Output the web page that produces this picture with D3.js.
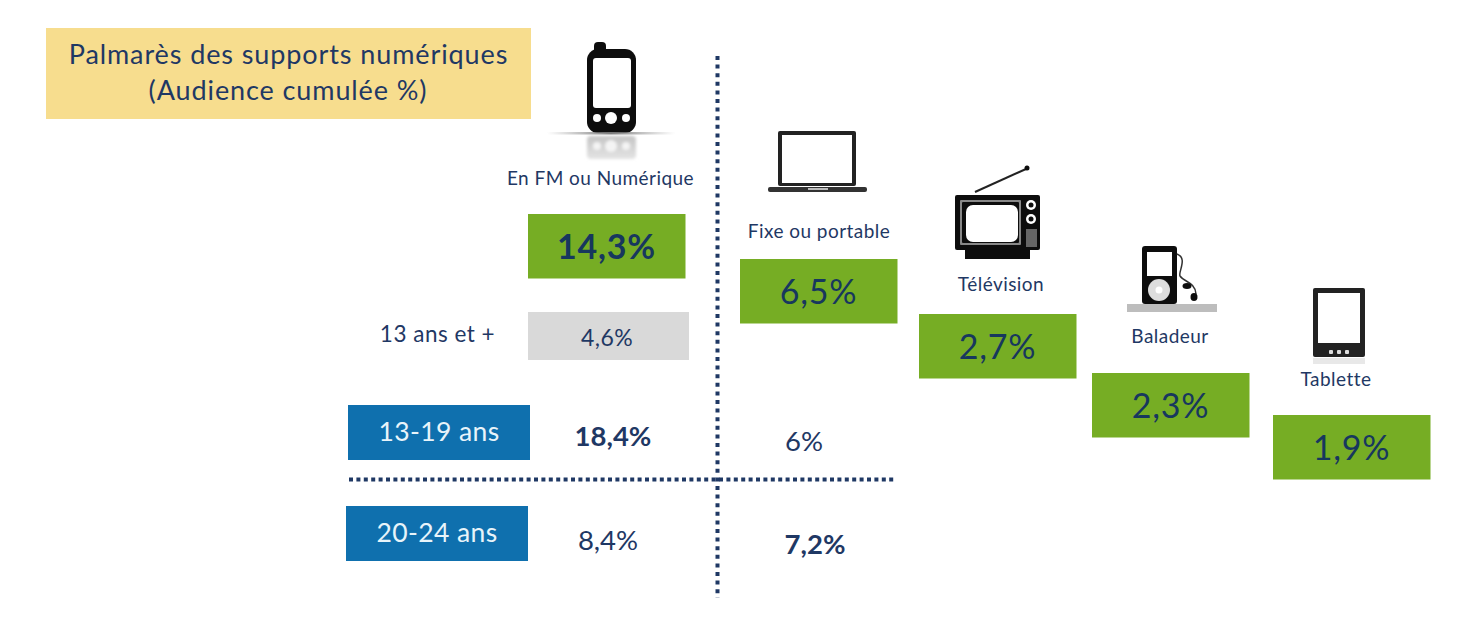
<!DOCTYPE html>
<html>
<head>
<meta charset="utf-8">
<script src="https://cdn.jsdelivr.net/npm/d3@7"></script>
<style>
  html, body { margin: 0; padding: 0; background: #fff; }
  text { font-family: Lato, "Open Sans", sans-serif; }
</style>
</head>
<body>
<svg id="chart" width="1460" height="619"></svg>
<script>
// palmares des supports numeriques
var supports = ["En FM ou Numérique", "Fixe ou portable", "Télévision", "Baladeur", "Tablette"];
var audience = ["14,3%", "6,5%", "2,7%", "2,3%", "1,9%"];
var ageGroups = ["13-19 ans", "20-24 ans"];
var ageFm = ["18,4%", "8,4%"];
var agePc = ["6%", "7,2%"];
var ageBold = [["18,4%"], ["7,2%"]];

var titleLines = ["Palmarès des supports numériques", "(Audience cumulée %)"];
var refLabel = "13 ans et +";
var refValue = "4,6%";

var navy = "#1f3864", green = "#76ad24", blue = "#0f70ae", black = "#111";

var cardX = d3.scaleOrdinal().domain(supports).range([528, 740, 919, 1092, 1273]);
var cardY = d3.scaleOrdinal().domain(supports).range([214, 259, 314, 373, 415]);
var labelY = d3.scaleOrdinal().domain(supports).range([185, 238, 291, 343, 386]);
var labelX = d3.scaleOrdinal().domain(supports).range([600.5, 819, 1001, 1170, 1336]);
var rowBox = d3.scaleOrdinal().domain(ageGroups).range([348, 346]);
var rowTop = d3.scaleOrdinal().domain(ageGroups).range([405, 506]);
var fmX = d3.scaleOrdinal().domain(ageGroups).range([613, 608]);
var pcX = d3.scaleOrdinal().domain(ageGroups).range([804, 815]);
var fmY = d3.scaleOrdinal().domain(ageGroups).range([446, 550]);
var pcY = d3.scaleOrdinal().domain(ageGroups).range([451, 554]);

var svg = d3.select("#chart");

// title box
svg.append("rect").attr("x", 46).attr("y", 28).attr("width", 485).attr("height", 91).attr("fill", "#f7dd8e");
svg.selectAll(".title").data(titleLines).enter().append("text")
    .attr("class", "title")
    .attr("x", function(d, i){ return i == 0 ? 288.5 : 288; })
    .attr("y", function(d, i){ return 64 + i * 36; })
    .attr("text-anchor", "middle")
    .attr("font-size", 27)
    .attr("letter-spacing", 0.9)
    .attr("fill", navy)
    .text(function(d){ return d; });

// dotted cross
svg.append("line").attr("x1", 717.5).attr("x2", 717.5).attr("y1", 56).attr("y2", 598)
    .attr("stroke", navy).attr("stroke-width", 4).attr("stroke-dasharray", "4 4.6");
svg.append("line").attr("x1", 349).attr("x2", 894).attr("y1", 479.5).attr("y2", 479.5)
    .attr("stroke", navy).attr("stroke-width", 4).attr("stroke-dasharray", "4 3.4");

// green cards
svg.selectAll(".card").data(supports).enter().append("rect")
    .attr("class", "card")
    .attr("x", function(d){ return cardX(d); })
    .attr("y", function(d){ return cardY(d); })
    .attr("width", 157.5)
    .attr("height", 64.5)
    .attr("fill", green);

svg.selectAll(".cardValue").data(supports).enter().append("text")
    .attr("class", "cardValue")
    .attr("x", function(d){ return cardX(d) + 78.5; })
    .attr("y", function(d){ return cardY(d) + 45; })
    .attr("text-anchor", "middle")
    .attr("font-size", 34)
    .attr("letter-spacing", 0.8)
    .attr("font-weight", function(d, i){ return i == 0 ? 700 : 400; })
    .attr("fill", "#17375e")
    .text(function(d, i){ return audience[i]; });

svg.selectAll(".supportLabel").data(supports).enter().append("text")
    .attr("class", "supportLabel")
    .attr("x", function(d){ return labelX(d); })
    .attr("y", function(d){ return labelY(d); })
    .attr("text-anchor", "middle")
    .attr("font-size", 19)
    .attr("letter-spacing", 0.45)
    .attr("fill", navy)
    .text(function(d){ return d; });

// 13 ans et +
svg.append("text").attr("x", 437.5).attr("y", 342).attr("text-anchor", "middle")
    .attr("font-size", 22.5).attr("letter-spacing", 0.5).attr("fill", navy).text(refLabel);
svg.append("rect").attr("x", 528).attr("y", 312).attr("width", 161).attr("height", 48).attr("fill", "#d9d9d9");
svg.append("text").attr("x", 607).attr("y", 346).attr("text-anchor", "middle")
    .attr("font-size", 23).attr("letter-spacing", 0.4).attr("fill", navy).text(refValue);

// age rows
svg.selectAll(".ageBox").data(ageGroups).enter().append("rect")
    .attr("class", "ageBox")
    .attr("x", function(d){ return rowBox(d); })
    .attr("y", function(d){ return rowTop(d); })
    .attr("width", 182)
    .attr("height", 55)
    .attr("fill", blue);

svg.selectAll(".ageLabel").data(ageGroups).enter().append("text")
    .attr("class", "ageLabel")
    .attr("x", function(d){ return rowBox(d) + 91; })
    .attr("y", function(d){ return rowTop(d) + 36; })
    .attr("text-anchor", "middle")
    .attr("font-size", 26.5)
    .attr("letter-spacing", 0.4)
    .attr("fill", "#e8f4fa")
    .text(function(d){ return d; });

function isBold(v, i){ return ageBold[i].indexOf(v) >= 0; }

svg.selectAll(".fmValue").data(ageGroups).enter().append("text")
    .attr("class", "fmValue")
    .attr("x", function(d){ return fmX(d); })
    .attr("y", function(d){ return fmY(d); })
    .attr("text-anchor", "middle")
    .attr("font-size", 27.5)
    .attr("font-weight", function(d, i){ return isBold(ageFm[i], i) ? 700 : 400; })
    .attr("fill", navy)
    .text(function(d, i){ return ageFm[i]; });

svg.selectAll(".pcValue").data(ageGroups).enter().append("text")
    .attr("class", "pcValue")
    .attr("x", function(d){ return pcX(d); })
    .attr("y", function(d){ return pcY(d); })
    .attr("text-anchor", "middle")
    .attr("font-size", 27.5)
    .attr("font-weight", function(d, i){ return isBold(agePc[i], i) ? 700 : 400; })
    .attr("fill", navy)
    .text(function(d, i){ return agePc[i]; });

// icons
var defs = svg.append("defs");
defs.append("filter").attr("id", "soft").append("feGaussianBlur").attr("stdDeviation", 0.6);
defs.append("filter").attr("id", "softer").append("feGaussianBlur").attr("stdDeviation", 1.6);
var fade = defs.append("linearGradient").attr("id", "shadowLine");
fade.append("stop").attr("offset", "0%").attr("stop-color", "#999").attr("stop-opacity", 0);
fade.append("stop").attr("offset", "50%").attr("stop-color", "#777");
fade.append("stop").attr("offset", "100%").attr("stop-color", "#999").attr("stop-opacity", 0);
var fadeDown = defs.append("linearGradient").attr("id", "reflect").attr("x2", 0).attr("y2", 1);
fadeDown.append("stop").attr("offset", "0%").attr("stop-color", "#c4c4c4");
fadeDown.append("stop").attr("offset", "100%").attr("stop-color", "#e4e4e4");

function box(g, x, y, w, h, r, fill){
    return g.append("rect").attr("x", x).attr("y", y).attr("width", w).attr("height", h).attr("rx", r).attr("fill", fill);
}
function dot(g, x, y, r, fill){
    return g.append("circle").attr("cx", x).attr("cy", y).attr("r", r).attr("fill", fill);
}

// phone
var phone = svg.append("g").attr("filter", "url(#soft)");
box(phone, 594, 42, 12, 14, 4, black);
box(phone, 587, 49, 49, 84, 11, black);
box(phone, 593, 58, 38, 50, 3, "#fff");
dot(phone, 597, 118, 4, "#fff");
dot(phone, 611, 118, 6, "#fff");
dot(phone, 626, 118, 4, "#fff");
box(phone, 547, 132, 128, 2.5, 0, "url(#shadowLine)");
var mirror = svg.append("g").attr("filter", "url(#softer)");
box(mirror, 587, 136, 49, 23, 4, "url(#reflect)");
dot(mirror, 597, 146, 4, "#f4f4f4");
dot(mirror, 611, 146, 6, "#f4f4f4");
dot(mirror, 626, 146, 4, "#f4f4f4");

// laptop
var laptop = svg.append("g").attr("filter", "url(#soft)");
box(laptop, 778, 131, 78, 55, 2, "#222");
box(laptop, 782, 135, 70, 48, 0, "#fff");
box(laptop, 768, 187, 99, 5, 2, "#333");
box(laptop, 808, 188, 20, 2, 0, "#bbb");

// tv
var tv = svg.append("g").attr("filter", "url(#soft)");
tv.append("line").attr("x1", 975).attr("y1", 192).attr("x2", 1026).attr("y2", 169)
    .attr("stroke", "#222").attr("stroke-width", 2);
dot(tv, 1027, 168, 2.5, black);
box(tv, 955, 195, 85, 55, 2, black);
box(tv, 965, 250, 65, 9, 0, black);
box(tv, 960, 200, 61, 45, 1, "#888");
box(tv, 962, 202, 57, 41, 1, black);
box(tv, 966, 205, 52, 37, 7, "#fff");
dot(tv, 1031, 205, 5, "#fff");
dot(tv, 1031, 205, 2.5, black);
dot(tv, 1031, 219, 5, "#fff");
dot(tv, 1031, 219, 2.5, black);
box(tv, 1026, 229, 11, 18, 0, "#666");

// baladeur
var shelf = svg.append("g").attr("filter", "url(#soft)");
box(shelf, 1127, 304, 90, 8, 0, "#bdbdbd");
var player = svg.append("g").attr("filter", "url(#soft)");
box(player, 1142, 246, 35, 58, 3, black);
box(player, 1147, 252, 25, 24, 0, "#fff");
dot(player, 1159, 290, 11, "#ddd");
dot(player, 1159, 290, 3.5, "#fff");
player.append("path")
    .attr("d", "M1177,254 C1188,258 1178,272 1180,276 C1184,282 1195,282 1196,294")
    .attr("fill", "none").attr("stroke", "#333").attr("stroke-width", 1.5);
player.append("ellipse").attr("cx", 1187).attr("cy", 286).attr("rx", 4.5).attr("ry", 3).attr("fill", black);
player.append("ellipse").attr("cx", 1194).attr("cy", 297).attr("rx", 3.5).attr("ry", 4).attr("fill", black);

// tablette
var tablet = svg.append("g").attr("filter", "url(#soft)");
box(tablet, 1313, 288, 52, 69, 2, "#222");
box(tablet, 1318, 293, 42, 50, 0, "#fff");
[1331, 1339, 1347].forEach(function(x){ box(tablet, x - 2, 350, 4, 4, 1, "#ddd"); });
box(tablet, 1313, 358, 52, 6, 0, "#e8e8e8");
</script>
</body>
</html>
